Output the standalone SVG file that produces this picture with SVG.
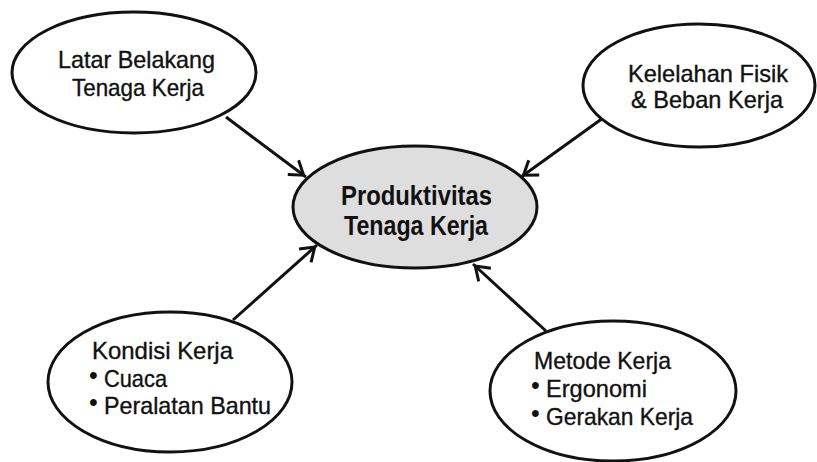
<svg xmlns="http://www.w3.org/2000/svg" width="817" height="462" viewBox="0 0 817 462">
  <defs>
    <style>
      .node { fill: #ffffff; stroke: #111111; stroke-width: 3; }
      .hub { fill: #dedede; stroke: #111111; stroke-width: 3; }
      .lbl { font-family: "Liberation Sans", Arial, sans-serif; font-size: 24px; fill: #111111; stroke: #111111; stroke-width: 0.35; }
      .hubl { font-family: "Liberation Sans", Arial, sans-serif; font-size: 28px; font-weight: bold; fill: #111111; }
      .dot { font-family: "Liberation Sans", Arial, sans-serif; font-size: 25px; fill: #111111; }
      .edge { stroke: #111111; stroke-width: 3; fill: none; marker-end: url(#head); }
    </style>
    <!-- open V arrowhead -->
    <marker id="head" markerUnits="userSpaceOnUse" markerWidth="24" markerHeight="24" viewBox="-20 -12 24 24" refX="0" refY="0" orient="auto">
      <path d="M-16,-9 L-3,0 L-16,9" fill="none" stroke="#111111" stroke-width="3"/>
    </marker>
  </defs>

  <rect width="817" height="462" fill="#ffffff"/>

  <g id="connectors">
    <line class="edge" x1="226" y1="117" x2="306" y2="177"/>
    <line class="edge" x1="603" y1="118" x2="521" y2="177"/>
    <line class="edge" x1="233" y1="320" x2="317" y2="245"/>
    <line class="edge" x1="546" y1="331" x2="473" y2="264"/>
  </g>

  <g id="latar-belakang">
    <ellipse class="node" cx="134" cy="72.5" rx="122" ry="60.5"/>
    <text class="lbl" x="58" y="68" textLength="157" lengthAdjust="spacingAndGlyphs">Latar Belakang</text>
    <text class="lbl" x="72" y="96" textLength="132" lengthAdjust="spacingAndGlyphs">Tenaga Kerja</text>
  </g>

  <g id="kelelahan-fisik">
    <ellipse class="node" cx="699" cy="85.5" rx="116" ry="61.5"/>
    <text class="lbl" x="628" y="82" textLength="160" lengthAdjust="spacingAndGlyphs">Kelelahan Fisik</text>
    <text class="lbl" x="631" y="108" textLength="152" lengthAdjust="spacingAndGlyphs">&amp; Beban Kerja</text>
  </g>

  <g id="produktivitas">
    <ellipse class="hub" cx="415" cy="207" rx="122" ry="61"/>
    <text class="hubl" x="341" y="205" textLength="151" lengthAdjust="spacingAndGlyphs">Produktivitas</text>
    <text class="hubl" x="344" y="235" textLength="144" lengthAdjust="spacingAndGlyphs">Tenaga Kerja</text>
  </g>

  <g id="kondisi-kerja">
    <ellipse class="node" cx="170" cy="382" rx="122" ry="70"/>
    <text class="lbl" x="92" y="359" textLength="141" lengthAdjust="spacingAndGlyphs">Kondisi Kerja</text>
    <text class="dot" x="89" y="384">•</text>
    <text class="lbl" x="104" y="387" textLength="63" lengthAdjust="spacingAndGlyphs">Cuaca</text>
    <text class="dot" x="89" y="411">•</text>
    <text class="lbl" x="104" y="414" textLength="167" lengthAdjust="spacingAndGlyphs">Peralatan Bantu</text>
  </g>

  <g id="metode-kerja">
    <ellipse class="node" cx="613" cy="391" rx="123" ry="70"/>
    <text class="lbl" x="534" y="369" textLength="137" lengthAdjust="spacingAndGlyphs">Metode Kerja</text>
    <text class="dot" x="531" y="394">•</text>
    <text class="lbl" x="546" y="397" textLength="101" lengthAdjust="spacingAndGlyphs">Ergonomi</text>
    <text class="dot" x="531" y="422">•</text>
    <text class="lbl" x="546" y="425" textLength="147" lengthAdjust="spacingAndGlyphs">Gerakan Kerja</text>
  </g>
</svg>
